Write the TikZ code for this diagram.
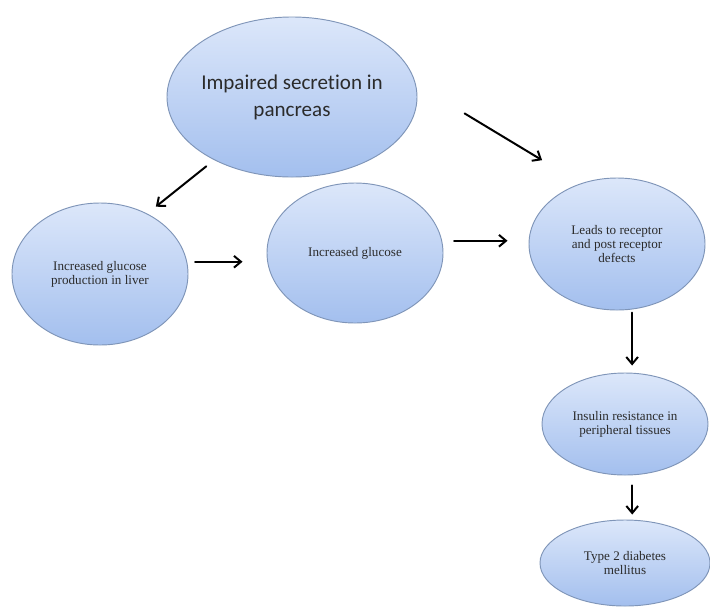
\documentclass[tikz,border=0pt]{standalone}
\usepackage{fontspec}
\setmainfont{Liberation Serif}
\newfontfamily\calibri[Ligatures=NoCommon]{Carlito}
\usetikzlibrary{shapes.geometric,arrows.meta}
\definecolor{bubtop}{HTML}{DCE7FA}
\definecolor{bubbot}{HTML}{A3BFEE}
\definecolor{bubline}{HTML}{7F95B8}
\definecolor{txt}{HTML}{2B2B2B}
\begin{document}
\begin{tikzpicture}[x=0.03cm, y=-0.03cm, line join=round, line cap=round,
	>={Straight Barb[length=6pt,width=10pt]},
	bubble/.style={ellipse, draw=bubline, line width=0.8pt, top color=bubtop, bottom color=bubbot,
		inner sep=0pt, align=center, text=txt, font=\fontsize{11.2}{12}\selectfont},
	arr/.style={->, line width=1.7pt}]
	\useasboundingbox (0,0) rectangle (710,606);
	% cac bong
	\node[bubble, minimum width=7.5cm, minimum height=4.8cm, inner xsep=-12pt,
		font=\calibri\fontsize{18}{23}\selectfont] (pan) at (292,97) {Impaired secretion in\\pancreas};
	\node[bubble, minimum width=5.28cm, minimum height=4.26cm] (liv) at (100,274) {Increased glucose\\production in liver};
	\node[bubble, minimum width=5.28cm, minimum height=4.2cm] (glu) at (355,253) {Increased glucose};
	\node[bubble, minimum width=5.28cm, minimum height=3.96cm] (rec) at (617,244) {Leads to receptor\\and post receptor\\defects};
	\node[bubble, minimum width=4.98cm, minimum height=3.06cm] (ins) at (625,424) {Insulin resistance in\\peripheral tissues};
	\node[bubble, minimum width=5.1cm, minimum height=2.58cm] (dm) at (625,563) {Type 2 diabetes\\mellitus};
	% mui ten
	\draw[arr, shorten <=0.3cm, shorten >=0.33cm] (pan.219)--(liv.52);
	\draw[arr, shorten <=1.71cm, shorten >=1.35cm] (pan.6)--(rec.121);
	\draw[arr, shorten <=0.24cm, shorten >=0.72cm] (liv.8)--(liv.8 -| glu.west);
	\draw[arr, shorten <=0.36cm, shorten >=0.63cm] (glu.8)--(glu.8 -| rec.west);
	\draw[arr, shorten <=0.09cm, shorten >=0.21cm] (rec.-77)--(rec.-77 |- ins.north);
	\draw[arr, shorten <=0.3cm, shorten >=0.15cm] (ins.-82)--(ins.-82 |- dm.north);
\end{tikzpicture}
\end{document}
